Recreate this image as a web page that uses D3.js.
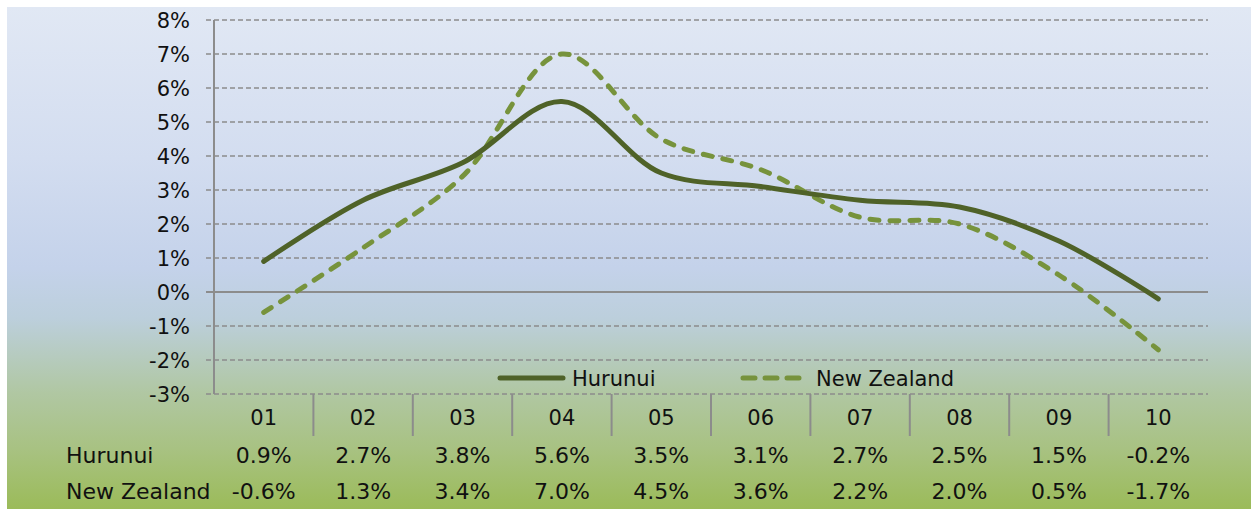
<!DOCTYPE html>
<html>
<head>
<meta charset="utf-8">
<script src="https://cdn.jsdelivr.net/npm/d3@7"></script>
<style>
  html, body { margin: 0; padding: 0; background: #ffffff; }
  svg { display: block; }
  text { font-family: "DejaVu Sans", Verdana, sans-serif; fill: #111; }
</style>
</head>
<body>
<svg id="chart" width="1251" height="509"></svg>
<script>
// Annual growth by year
const categories = ["01", "02", "03", "04", "05", "06", "07", "08", "09", "10"];
const hurunui    = [0.9, 2.7, 3.8, 5.6, 3.5, 3.1, 2.7, 2.5, 1.5, -0.2];
const newZealand = [-0.6, 1.3, 3.4, 7.0, 4.5, 3.6, 2.2, 2.0, 0.5, -1.7];
const seriesNames = ["Hurunui", "New Zealand"];
const yTicks = [8, 7, 6, 5, 4, 3, 2, 1, 0, -1, -2, -3];

const svg = d3.select("#chart");
const W = 1251, H = 509;
const plot = { left: 214, right: 1208, top: 20, bottom: 394 };

// Background gradient (blue fading into green)
const defs = svg.append("defs");
const grad = defs.append("linearGradient")
  .attr("id", "bg").attr("x1", 0).attr("y1", 0).attr("x2", 0).attr("y2", 1);
[[0, "#e1e8f4"], [0.3, "#d3ddf0"], [0.52, "#c4d2ea"], [0.62, "#bccfdc"],
 [0.77, "#b0c7a2"], [0.88, "#a8c282"], [1, "#9bbb59"]]
  .forEach(([o, c]) => grad.append("stop").attr("offset", o).attr("stop-color", c));
svg.append("rect").attr("x", 7).attr("y", 7).attr("width", W - 7).attr("height", H - 7)
  .attr("fill", "url(#bg)");

const x = d3.scaleBand().domain(categories).range([plot.left, plot.right]);
const y = d3.scaleLinear().domain([-3, 8]).range([plot.bottom, plot.top]);

// Horizontal gridlines
const gridColor = "#8c8c8c";
svg.append("g").selectAll("line").data(yTicks.filter(d => d !== 0)).join("line")
  .attr("x1", plot.left - 8).attr("x2", plot.right)
  .attr("y1", d => y(d)).attr("y2", d => y(d))
  .attr("stroke", gridColor).attr("stroke-width", 1.6)
  .attr("stroke-dasharray", "5,3");
// Zero line
svg.append("line")
  .attr("x1", plot.left - 8).attr("x2", plot.right)
  .attr("y1", y(0)).attr("y2", y(0))
  .attr("stroke", gridColor).attr("stroke-width", 2);

// Vertical axis
svg.append("line")
  .attr("x1", plot.left).attr("x2", plot.left)
  .attr("y1", plot.top).attr("y2", plot.bottom)
  .attr("stroke", gridColor).attr("stroke-width", 2);

// Y tick labels
svg.append("g").selectAll("text").data(yTicks).join("text")
  .attr("x", 190).attr("y", d => y(d))
  .attr("dy", "0.36em").attr("text-anchor", "end")
  .attr("font-size", 21)
  .text(d => d + "%");

// Category separators extending into the data table
const seps = categories.slice(1).map(c => x(c));
svg.append("g").selectAll("line").data(seps).join("line")
  .attr("x1", d => d).attr("x2", d => d)
  .attr("y1", plot.bottom).attr("y2", 436)
  .attr("stroke", gridColor).attr("stroke-width", 2);

// Category labels
svg.append("g").selectAll("text").data(categories).join("text")
  .attr("x", d => x(d) + x.bandwidth() / 2).attr("y", 417)
  .attr("dy", "0.36em").attr("text-anchor", "middle")
  .attr("font-size", 21)
  .text(d => d);

// Data table rows
const rows = [
  { name: seriesNames[0], values: hurunui, y: 455 },
  { name: seriesNames[1], values: newZealand, y: 491 }
];
rows.forEach(r => {
  svg.append("text").attr("x", 66).attr("y", r.y).attr("dy", "0.36em")
    .attr("font-size", 22).text(r.name);
  svg.append("g").selectAll("text").data(r.values).join("text")
    .attr("x", (d, i) => x(categories[i]) + x.bandwidth() / 2)
    .attr("y", r.y).attr("dy", "0.36em").attr("text-anchor", "middle")
    .attr("font-size", 22)
    .text(d => d.toFixed(1) + "%");
});

// Smoothed series lines
const line = d3.line()
  .x((d, i) => x(categories[i]) + x.bandwidth() / 2)
  .y(d => y(d))
  .curve(d3.curveCatmullRom.alpha(0.5));

const nzStyle = { color: "#77933c", width: 5, dash: "9,11" };
const huStyle = { color: "#4f6228", width: 5, dash: null };

svg.append("path").datum(newZealand)
  .attr("d", line).attr("fill", "none")
  .attr("stroke", nzStyle.color).attr("stroke-width", nzStyle.width)
  .attr("stroke-linecap", "round").attr("stroke-dasharray", nzStyle.dash);

svg.append("path").datum(hurunui)
  .attr("d", line).attr("fill", "none")
  .attr("stroke", huStyle.color).attr("stroke-width", huStyle.width)
  .attr("stroke-linecap", "round").attr("stroke-linejoin", "round");

// Legend
const legY = 378;
svg.append("line").attr("x1", 500).attr("x2", 563).attr("y1", legY).attr("y2", legY)
  .attr("stroke", huStyle.color).attr("stroke-width", huStyle.width)
  .attr("stroke-linecap", "round");
svg.append("text").attr("x", 572).attr("y", legY).attr("dy", "0.36em")
  .attr("font-size", 21).text(seriesNames[0]);
svg.append("line").attr("x1", 743).attr("x2", 800).attr("y1", legY).attr("y2", legY)
  .attr("stroke", nzStyle.color).attr("stroke-width", nzStyle.width)
  .attr("stroke-linecap", "round").attr("stroke-dasharray", "12,10");
svg.append("text").attr("x", 816).attr("y", legY).attr("dy", "0.36em")
  .attr("font-size", 21).text(seriesNames[1]);
</script>
</body>
</html>
